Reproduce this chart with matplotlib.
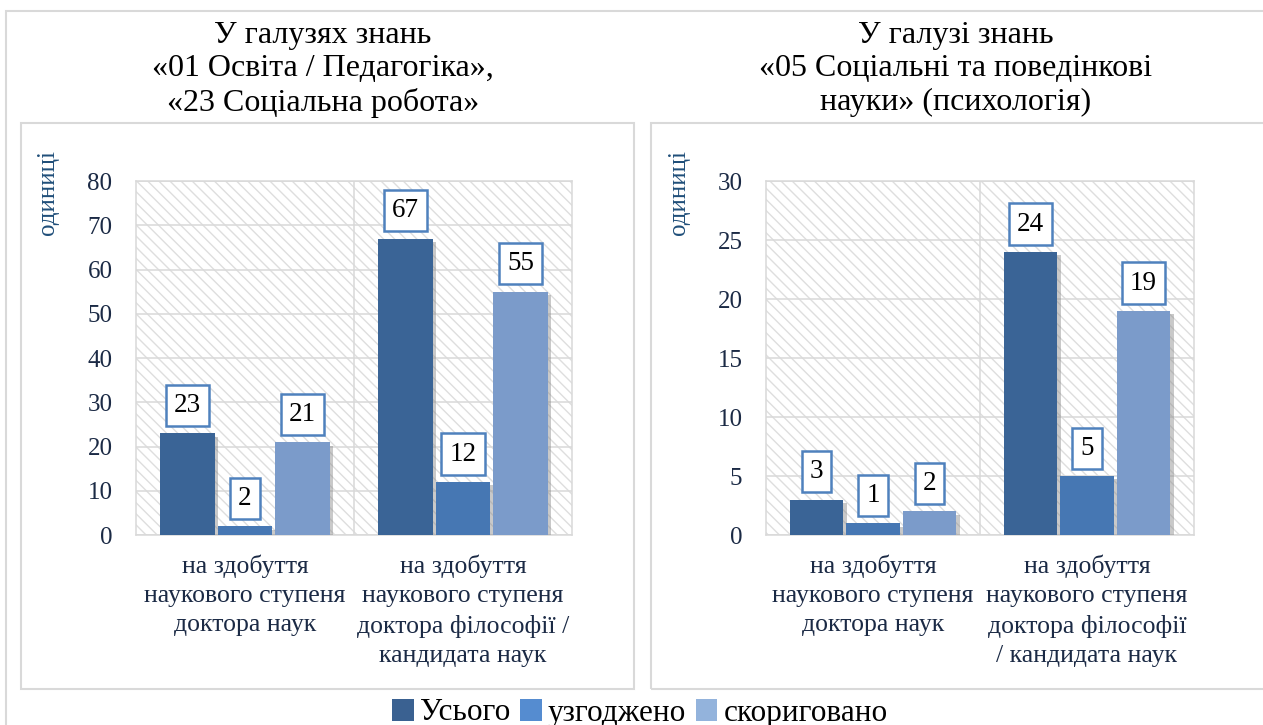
import matplotlib.pyplot as plt
import matplotlib.patheffects as pe
from matplotlib.patches import Rectangle, Patch
import numpy as np

plt.rcParams['font.family'] = ['Liberation Serif', 'DejaVu Serif']
plt.rcParams['hatch.linewidth'] = 1.0

# data
series = ['Усього', 'узгоджено', 'скориговано']
left_vals = [[23, 67], [2, 12], [21, 55]]
right_vals = [[3, 24], [1, 5], [2, 19]]
left_cats = ['на здобуття\nнаукового ступеня\nдоктора наук',
             'на здобуття\nнаукового ступеня\nдоктора філософії /\nкандидата наук']
right_cats = ['на здобуття\nнаукового ступеня\nдоктора наук',
              'на здобуття\nнаукового ступеня\nдоктора філософії\n/ кандидата наук']
left_title = 'У галузях знань\n«01 Освіта / Педагогіка»,\n«23 Соціальна робота»'
right_title = 'У галузі знань\n«05 Соціальні та поведінкові\nнауки» (психологія)'

bar_colors = ['#3A6496', '#4677B3', '#7B9BCA']
legend_colors = ['#3A6191', '#558CD0', '#93B3DC']
text_col = '#1B2A45'
grid_col = '#D9D9D9'

W, H = 1263, 725
fig = plt.figure(figsize=(W / 100, H / 100), dpi=100)


def px_rect(x0, y0, x1, y1):
    return [x0 / W, 1 - y1 / H, (x1 - x0) / W, (y1 - y0) / H]


# frames
fig.patches.append(Rectangle((6 / W, -0.05), 1.1, 1 - 11 / H + 0.05, transform=fig.transFigure,
                             fill=False, ec=grid_col, lw=1.5, zorder=0))
for x0, x1 in [(21, 634), (651, 1290)]:
    r = px_rect(x0, 123, x1, 689)
    fig.patches.append(Rectangle((r[0], r[1]), r[2], r[3], transform=fig.transFigure,
                                 fill=False, ec=grid_col, lw=1.5, zorder=0))


def draw_panel(rect, vals, cats, ymax, step, title, title_x, ylab_x):
    ax = fig.add_axes(px_rect(*rect))
    ax.add_patch(Rectangle((0, 0), 1, 1, transform=ax.transAxes, fc='white',
                           ec='#DEDEDE', lw=0, hatch='\\\\\\', zorder=0))
    x = np.arange(len(cats))
    w = 0.25
    gap = 0.014
    for i, (name, v) in enumerate(zip(series, vals)):
        pos = x + (i - 1) * (w + gap)
        bars = ax.bar(pos, v, w, color=bar_colors[i], zorder=3,
                      path_effects=[pe.SimplePatchShadow(offset=(2.5, -2.5), shadow_rgbFace='#888888', alpha=0.45),
                                    pe.Normal()])
        for b, val in zip(bars, v):
            ax.annotate(str(val), (b.get_x() + b.get_width() / 2, b.get_height()),
                        xytext=(0, 20), textcoords='offset points', ha='center', va='center',
                        fontsize=19.5, color='black', zorder=5,
                        bbox=dict(boxstyle='square,pad=0.3', fc='white', ec='#4F81BD', lw=1.8))
    ax.set_xlim(-0.5, len(cats) - 0.5)
    ax.set_ylim(0, ymax)
    ax.set_yticks(np.arange(0, ymax + 1, step))
    ax.grid(axis='y', color=grid_col, lw=1.1, zorder=1)
    ax.axvline(0.5, color=grid_col, lw=1.1, zorder=1)
    ax.set_axisbelow(True)
    for s in ax.spines.values():
        s.set_color(grid_col)
        s.set_linewidth(1.1)
    ax.set_xticks(x, cats, fontsize=18.5, color=text_col, linespacing=1.42)
    ax.tick_params(axis='x', length=0, pad=14)
    ax.tick_params(axis='y', length=0, pad=17, labelsize=18, labelcolor=text_col)
    fig.text(title_x / W, 1 - 69 / H, title, ha='center', va='center', fontsize=23,
             linespacing=1.2, color='black')
    fig.text(ylab_x / W, 1 - 150 / H, 'одиниці', rotation=90, ha='center', va='top',
             fontsize=18, color='#1F4E79')
    return ax


draw_panel((136, 181, 572, 535), left_vals, left_cats, 80, 10, left_title, 323, 48)
draw_panel((766, 181, 1194, 535), right_vals, right_cats, 30, 5, right_title, 956, 679)

handles = [Patch(fc=c, ec='none') for c in legend_colors]
fig.legend(handles, series, loc='center', bbox_to_anchor=(640 / W, 1 - 713 / H), ncol=3,
           frameon=False, fontsize=22.5, handlelength=0.7, handleheight=0.7,
           handletextpad=0.2, columnspacing=0.3)

fig.savefig('out.png', dpi=100)
